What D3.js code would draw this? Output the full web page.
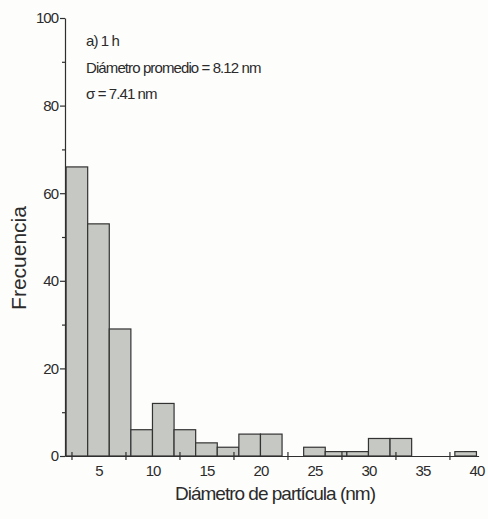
<!DOCTYPE html>
<html>
<head>
<meta charset="utf-8">
<script src="https://cdn.jsdelivr.net/npm/d3@7"></script>
<style>
  html, body { margin: 0; padding: 0; background: #fdfdfc; }
  svg { display: block; }
  text { font-family: "Liberation Sans", Arial, sans-serif; fill: #2b2b2b; }
</style>
</head>
<body>
<svg id="chart" width="488" height="519"></svg>
<script>
// Particle size histogram, bins of 2 nm
const binStart = [2, 4, 6, 8, 10, 12, 14, 16, 18, 20, 22, 24, 26, 28, 30, 32, 34, 36, 38];
const binWidth = 2;
const counts   = [66, 53, 29, 6, 12, 6, 3, 2, 5, 5, 0, 2, 1, 1, 4, 4, 0, 0, 1];

const xTickLabels = [5, 10, 15, 20, 25, 30, 35, 40];
const xTickMarks  = [2.5, 7.5, 12.5, 17.5, 22.5, 27.5, 32.5, 37.5];
const yMajor = [0, 20, 40, 60, 80, 100];
const yMinor = [10, 30, 50, 70, 90];

const annotations = ["a) 1 h", "Diámetro promedio = 8.12 nm", "\u03c3 = 7.41 nm"];
const xTitle = "Diámetro de partícula (nm)";
const yTitle = "Frecuencia";

const svg = d3.select("#chart");
const ink = "#2f2f2f";

const x = d3.scaleLinear().domain([1.9, 40.2]).range([65, 478.6]);
const y = d3.scaleLinear().domain([0, 100]).range([456, 18]);

// bars
svg.append("g")
  .selectAll("rect")
  .data(binStart.map((s, i) => ({ s, c: counts[i] })).filter(d => d.c > 0))
  .join("rect")
  .attr("x", d => x(d.s))
  .attr("y", d => y(d.c))
  .attr("width", d => x(d.s + binWidth) - x(d.s))
  .attr("height", d => y(0) - y(d.c))
  .attr("fill", "#c6c9c3")
  .attr("stroke", "#333")
  .attr("stroke-width", 1.2);

// x axis: line + tick marks between labels
const xAxisMarks = svg.append("g")
  .attr("transform", `translate(0,${y(0)})`)
  .call(d3.axisBottom(x).tickValues(xTickMarks).tickSize(6).tickSizeOuter(0).tickFormat(""));
xAxisMarks.selectAll(".tick line").attr("y1", -4).attr("y2", 4);

const xAxisLabels = svg.append("g")
  .attr("transform", `translate(0,${y(0)})`)
  .call(d3.axisBottom(x).tickValues(xTickLabels).tickSize(0).tickPadding(9));
xAxisLabels.select(".domain").remove();
xAxisLabels.selectAll("text")
  .style("font-size", "15px")
  .style("letter-spacing", "-1px")
  .attr("fill", "#2b2b2b");

// y axis
const yAxis = svg.append("g")
  .attr("transform", `translate(${x.range()[0]},0)`)
  .call(d3.axisLeft(y).tickValues(yMajor).tickSize(5).tickSizeOuter(0).tickPadding(2));
yAxis.selectAll("text")
  .style("font-size", "15px")
  .style("letter-spacing", "-1px")
  .attr("fill", "#2b2b2b");
svg.append("g")
  .attr("transform", `translate(${x.range()[0]},0)`)
  .call(d3.axisLeft(y).tickValues(yMinor).tickSize(3).tickFormat(""))
  .select(".domain").remove();

svg.selectAll(".domain, .tick line").attr("stroke", ink).attr("stroke-width", 1.2);

// annotation block
svg.append("g")
  .selectAll("text")
  .data(annotations)
  .join("text")
  .attr("x", 86)
  .attr("y", (d, i) => 46 + i * 26.5)
  .style("font-size", "15px")
  .style("letter-spacing", "-0.9px")
  .text(d => d);

// axis titles
svg.append("text")
  .attr("x", 275)
  .attr("y", 500)
  .attr("text-anchor", "middle")
  .style("font-size", "19px")
  .style("letter-spacing", "-1px")
  .text(xTitle);

svg.append("text")
  .attr("transform", "translate(26,258) rotate(-90)")
  .attr("text-anchor", "middle")
  .style("font-size", "21px")
  .text(yTitle);
</script>
</body>
</html>
